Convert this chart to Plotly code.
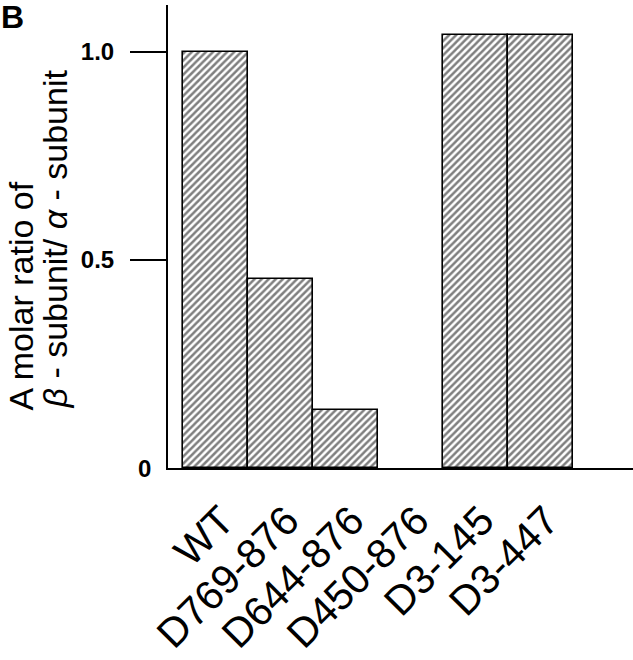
import plotly.graph_objects as go

categories = ["WT", "D769-876", "D644-876", "D450-876", "D3-145", "D3-447"]
ratio = [1.0, 0.455, 0.14, 0.0, 1.04, 1.04]
ytick_vals = [0.5, 1.0]
ytick_text = ["0.5", "1.0"]
zero_label = "0"
ytitle_line1 = "A molar ratio of"
ytitle_line2 = "<i>β</i> - subunit/ <i>α</i> - subunit"
panel_label = "B"

W, H = 633, 660
L, R, T, B = 168, 0, 5, 192
pw = W - L - R
ph = H - T - B

def px2x(px):
    return (px - L) / pw

def py2y(py):
    return (H - B - py) / ph

outline_w = [0 if v == 0 else 1.6 for v in ratio]

fig = go.Figure()
fig.add_trace(go.Bar(
    x=list(range(len(categories))),
    y=ratio,
    width=1.0,
    marker=dict(
        color="white",
        line=dict(color="black", width=outline_w),
        pattern=dict(shape="/", fgcolor="black", bgcolor="white", size=5, solidity=0.5),
    ),
    showlegend=False,
    hoverinfo="skip",
))

font_main = "Liberation Sans, Arial, Helvetica, sans-serif"

fig.update_layout(
    width=W, height=H,
    margin=dict(l=L, r=R, t=T, b=B, pad=0),
    paper_bgcolor="white", plot_bgcolor="white",
    bargap=0,
    xaxis=dict(
        range=[-0.738, 6.42],
        tickvals=list(range(len(categories))),
        ticktext=categories,
        tickangle=-45,
        ticks="",
        showgrid=False, zeroline=False,
        showline=True, linecolor="black", linewidth=2,
        tickfont=dict(family=font_main, size=41, color="black"),
        ticklabelstandoff=10,
        ticklabelshift=6,
    ),
    yaxis=dict(
        range=[0, 1.113],
        tickvals=ytick_vals,
        ticktext=ytick_text,
        ticks="outside", ticklen=36, tickwidth=1.5, tickcolor="black",
        showgrid=False, zeroline=False,
        showline=True, linecolor="black", linewidth=2,
        tickfont=dict(family=font_main, size=24, color="black", weight="bold"),
        ticklabelstandoff=11,
    ),
    annotations=[
        dict(text=zero_label, xref="paper", yref="y", x=px2x(153), y=0,
             xanchor="right", yanchor="middle", showarrow=False,
             font=dict(family=font_main, size=24, color="black", weight="bold")),
        dict(text=ytitle_line1, xref="paper", yref="paper", x=px2x(20), y=py2y(413),
             xanchor="center", yanchor="bottom", textangle=-90, showarrow=False,
             font=dict(family=font_main, size=34, color="black")),
        dict(text=ytitle_line2, xref="paper", yref="paper", x=px2x(54), y=py2y(411),
             xanchor="center", yanchor="bottom", textangle=-90, showarrow=False,
             font=dict(family=font_main, size=34, color="black")),
        dict(text="<b>" + panel_label + "</b>", xref="paper", yref="paper", x=px2x(-1), y=py2y(-3),
             xanchor="left", yanchor="top", showarrow=False,
             font=dict(family=font_main, size=32, color="black")),
    ],
)

fig.write_html(
    "out.html",
    config={"displayModeBar": False},
    post_script="document.body.style.margin='0';document.body.style.overflow='hidden';",
)
